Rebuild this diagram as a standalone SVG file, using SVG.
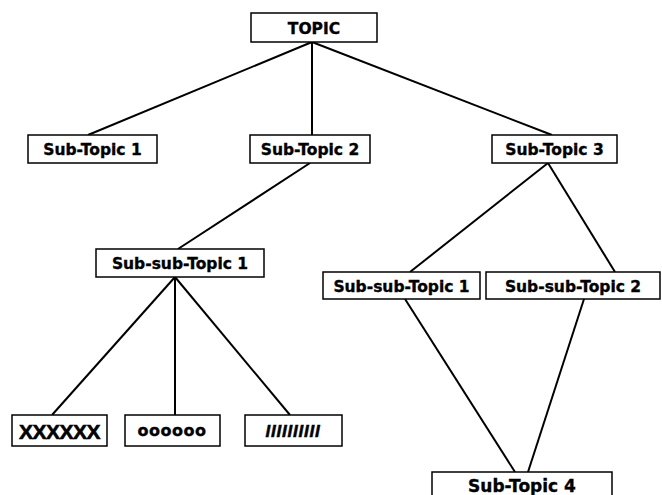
<svg xmlns="http://www.w3.org/2000/svg" width="662" height="495" viewBox="0 0 662 495">
<style>
.box{fill:#fff;stroke:#000;stroke-width:1.5}
.lbl{font-family:"DejaVu Sans",Verdana,sans-serif;font-weight:bold;font-size:15.5px;text-anchor:middle;fill:#000;stroke:#000;stroke-width:0.35}
.edge{stroke:#000;stroke-width:2;fill:none}
</style>
<rect width="662" height="495" fill="#fff"/>
<g id="connectors">
<line class="edge" x1="312" y1="42" x2="88" y2="135"/>
<line class="edge" x1="312" y1="42" x2="312" y2="135"/>
<line class="edge" x1="312" y1="42" x2="552" y2="135"/>
<line class="edge" x1="310" y1="163" x2="178" y2="249"/>
<line class="edge" x1="548" y1="163" x2="410" y2="272"/>
<line class="edge" x1="548" y1="163" x2="615" y2="272"/>
<line class="edge" x1="175" y1="277" x2="52" y2="415"/>
<line class="edge" x1="175" y1="277" x2="175" y2="415"/>
<line class="edge" x1="175" y1="277" x2="290" y2="415"/>
<line class="edge" x1="405" y1="299" x2="515" y2="472"/>
<line class="edge" x1="584" y1="299" x2="528" y2="472"/>
</g>
<g id="topic"><rect class="box" x="251" y="13" width="126" height="29"/><text class="lbl" x="314" y="33.5">TOPIC</text></g>
<g id="subtopic1"><rect class="box" x="28" y="135" width="129" height="28"/><text class="lbl" x="92.5" y="155">Sub-Topic 1</text></g>
<g id="subtopic2"><rect class="box" x="250" y="135" width="120" height="28"/><text class="lbl" x="310" y="155">Sub-Topic 2</text></g>
<g id="subtopic3"><rect class="box" x="492" y="135" width="125" height="28"/><text class="lbl" x="554.5" y="155">Sub-Topic 3</text></g>
<g id="subsubtopic1a"><rect class="box" x="96" y="249" width="168" height="28"/><text class="lbl" x="180" y="269">Sub-sub-Topic 1</text></g>
<g id="subsubtopic1b"><rect class="box" x="323" y="272" width="157" height="27"/><text class="lbl" x="401.5" y="291.5">Sub-sub-Topic 1</text></g>
<g id="subsubtopic2"><rect class="box" x="486" y="272" width="174" height="27"/><text class="lbl" x="573" y="291.5">Sub-sub-Topic 2</text></g>
<g id="leafx"><rect class="box" x="12" y="415" width="95" height="31"/><text x="59.5" y="438.5" style="font-family:'Liberation Sans',Arial,sans-serif;font-weight:bold;font-size:21px;text-anchor:middle;stroke:#000;stroke-width:0.6;letter-spacing:-0.5px">XXXXXX</text></g>
<g id="leafo"><rect class="box" x="125" y="415" width="95" height="31"/><text class="lbl" x="172" y="436" style="font-size:16px;letter-spacing:0.5px">oooooo</text></g>
<g id="leafi"><rect class="box" x="245" y="415" width="97" height="31"/><text x="293" y="437" style="font-family:'Liberation Sans',Arial,sans-serif;font-weight:bold;font-style:italic;font-size:17px;letter-spacing:0.8px;text-anchor:middle;stroke:#000;stroke-width:0.5">IIIIIIIIII</text></g>
<g id="subtopic4"><rect class="box" x="432" y="472" width="180" height="30"/><text class="lbl" x="522" y="492" style="font-size:17px">Sub-Topic 4</text></g>
</svg>
